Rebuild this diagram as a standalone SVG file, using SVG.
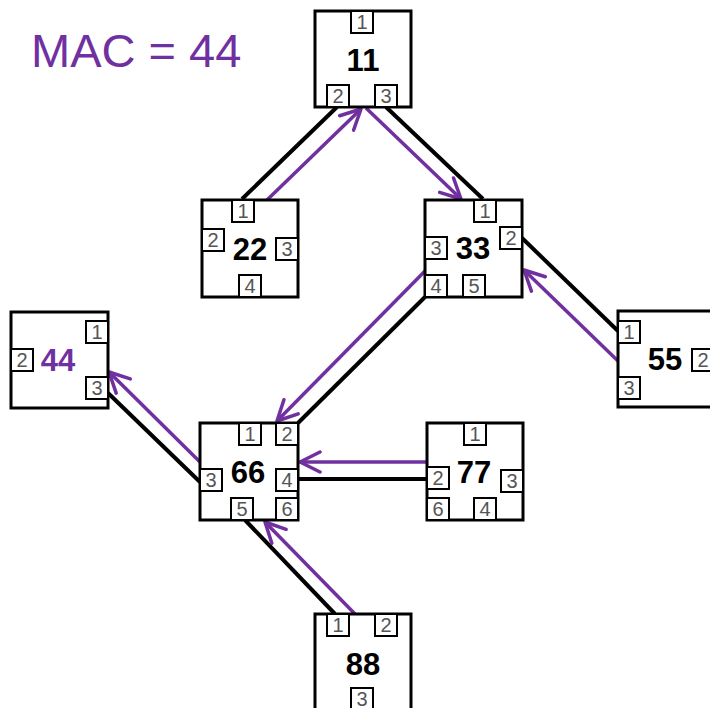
<svg xmlns="http://www.w3.org/2000/svg" width="710" height="708" viewBox="0 0 710 708">
<defs>
<style>
.box{fill:#fff;stroke:#000;stroke-width:3}
.port{fill:#fff;stroke:#000;stroke-width:2}
.pt{font-family:"Liberation Sans",Arial,sans-serif;font-size:20px;fill:#555;text-anchor:middle}
.lbl{font-family:"Liberation Sans",Arial,sans-serif;font-size:31px;font-weight:bold;fill:#000;text-anchor:middle}
.link{stroke:#000;stroke-width:4;fill:none}
.flow{stroke:#7030A0;stroke-width:3.5;fill:none;marker-end:url(#ah)}
</style>
<marker id="ah" markerUnits="userSpaceOnUse" markerWidth="28" markerHeight="28" refX="22" refY="13" orient="auto" viewBox="0 0 28 28">
<path d="M2,3 L22,13 L2,23" fill="none" stroke="#7030A0" stroke-width="3.5" stroke-linecap="round" stroke-linejoin="round"/>
</marker>
</defs>
<rect width="710" height="708" fill="#fff"/>
<text x="31" y="67" font-family="Liberation Sans, Arial, sans-serif" font-size="47" fill="#7030A0">MAC = 44</text>
<g id="connectors">
<line class="link" x1="242" y1="199" x2="337" y2="107"/>
<line class="flow" x1="267" y1="200" x2="361" y2="109"/>
<line class="link" x1="386" y1="107" x2="483" y2="199"/>
<line class="flow" x1="366" y1="108" x2="461" y2="199"/>
<line class="link" x1="522" y1="238" x2="618" y2="331"/>
<line class="flow" x1="618" y1="361" x2="524" y2="270"/>
<line class="link" x1="425" y1="297" x2="298" y2="423"/>
<line class="flow" x1="427" y1="269" x2="277" y2="421"/>
<line class="link" x1="108" y1="393" x2="200" y2="482"/>
<line class="flow" x1="200" y1="462" x2="109" y2="372"/>
<line class="link" x1="298" y1="479" x2="427" y2="479"/>
<line class="flow" x1="427" y1="462" x2="300" y2="462"/>
<line class="link" x1="245" y1="520" x2="335" y2="614"/>
<line class="flow" x1="355" y1="614" x2="265" y2="522"/>
</g>
<g id="n11">
<rect class="box" x="315" y="11" width="96" height="96"/>
<rect class="port" x="351" y="11" width="22" height="22"/><text class="pt" x="362" y="29">1</text>
<rect class="port" x="327" y="85" width="22" height="22"/><text class="pt" x="338" y="103">2</text>
<rect class="port" x="375" y="85" width="22" height="22"/><text class="pt" x="386" y="103">3</text>
<text class="lbl" x="363" y="71">11</text>
</g>
<g id="n22">
<rect class="box" x="202" y="200" width="96" height="97"/>
<rect class="port" x="232" y="200" width="22" height="22"/><text class="pt" x="243" y="218">1</text>
<rect class="port" x="202" y="229" width="22" height="22"/><text class="pt" x="213" y="247">2</text>
<rect class="port" x="276" y="238" width="22" height="22"/><text class="pt" x="287" y="256">3</text>
<rect class="port" x="239" y="275" width="22" height="22"/><text class="pt" x="250" y="293">4</text>
<text class="lbl" x="250" y="260">22</text>
</g>
<g id="n33">
<rect class="box" x="425" y="200" width="97" height="97"/>
<rect class="port" x="474" y="200" width="22" height="22"/><text class="pt" x="485" y="218">1</text>
<rect class="port" x="500" y="227" width="22" height="22"/><text class="pt" x="511" y="245">2</text>
<rect class="port" x="425" y="237" width="22" height="22"/><text class="pt" x="436" y="255">3</text>
<rect class="port" x="425" y="275" width="22" height="22"/><text class="pt" x="436" y="293">4</text>
<rect class="port" x="463" y="275" width="22" height="22"/><text class="pt" x="474" y="293">5</text>
<text class="lbl" x="473" y="259">33</text>
</g>
<g id="n44">
<rect class="box" x="11" y="312" width="97" height="96"/>
<rect class="port" x="86" y="321" width="22" height="22"/><text class="pt" x="97" y="339">1</text>
<rect class="port" x="11" y="349" width="22" height="22"/><text class="pt" x="22" y="367">2</text>
<rect class="port" x="86" y="377" width="22" height="22"/><text class="pt" x="97" y="395">3</text>
<text class="lbl" x="58" y="371" style="fill:#7030A0">44</text>
</g>
<g id="n55">
<rect class="box" x="618" y="311" width="96" height="96"/>
<rect class="port" x="618" y="321" width="22" height="22"/><text class="pt" x="629" y="339">1</text>
<rect class="port" x="692" y="349" width="22" height="22"/><text class="pt" x="703" y="367">2</text>
<rect class="port" x="618" y="377" width="22" height="22"/><text class="pt" x="629" y="395">3</text>
<text class="lbl" x="665" y="370">55</text>
</g>
<g id="n66">
<rect class="box" x="200" y="423" width="98" height="97"/>
<rect class="port" x="239" y="423" width="22" height="22"/><text class="pt" x="250" y="441">1</text>
<rect class="port" x="276" y="423" width="22" height="22"/><text class="pt" x="287" y="441">2</text>
<rect class="port" x="200" y="469" width="22" height="22"/><text class="pt" x="211" y="487">3</text>
<rect class="port" x="276" y="469" width="22" height="22"/><text class="pt" x="287" y="487">4</text>
<rect class="port" x="231" y="498" width="22" height="22"/><text class="pt" x="242" y="516">5</text>
<rect class="port" x="276" y="498" width="22" height="22"/><text class="pt" x="287" y="516">6</text>
<text class="lbl" x="248" y="483">66</text>
</g>
<g id="n77">
<rect class="box" x="427" y="423" width="96" height="97"/>
<rect class="port" x="464" y="423" width="22" height="22"/><text class="pt" x="475" y="441">1</text>
<rect class="port" x="427" y="467" width="22" height="22"/><text class="pt" x="438" y="485">2</text>
<rect class="port" x="501" y="470" width="22" height="22"/><text class="pt" x="512" y="488">3</text>
<rect class="port" x="474" y="498" width="22" height="22"/><text class="pt" x="485" y="516">4</text>
<rect class="port" x="427" y="498" width="22" height="22"/><text class="pt" x="438" y="516">6</text>
<text class="lbl" x="474" y="483">77</text>
</g>
<g id="n88">
<rect class="box" x="315" y="614" width="96" height="96"/>
<rect class="port" x="327" y="614" width="22" height="22"/><text class="pt" x="338" y="632">1</text>
<rect class="port" x="375" y="614" width="22" height="22"/><text class="pt" x="386" y="632">2</text>
<rect class="port" x="351" y="688" width="22" height="22"/><text class="pt" x="362" y="706">3</text>
<text class="lbl" x="363" y="675">88</text>
</g>
</svg>
